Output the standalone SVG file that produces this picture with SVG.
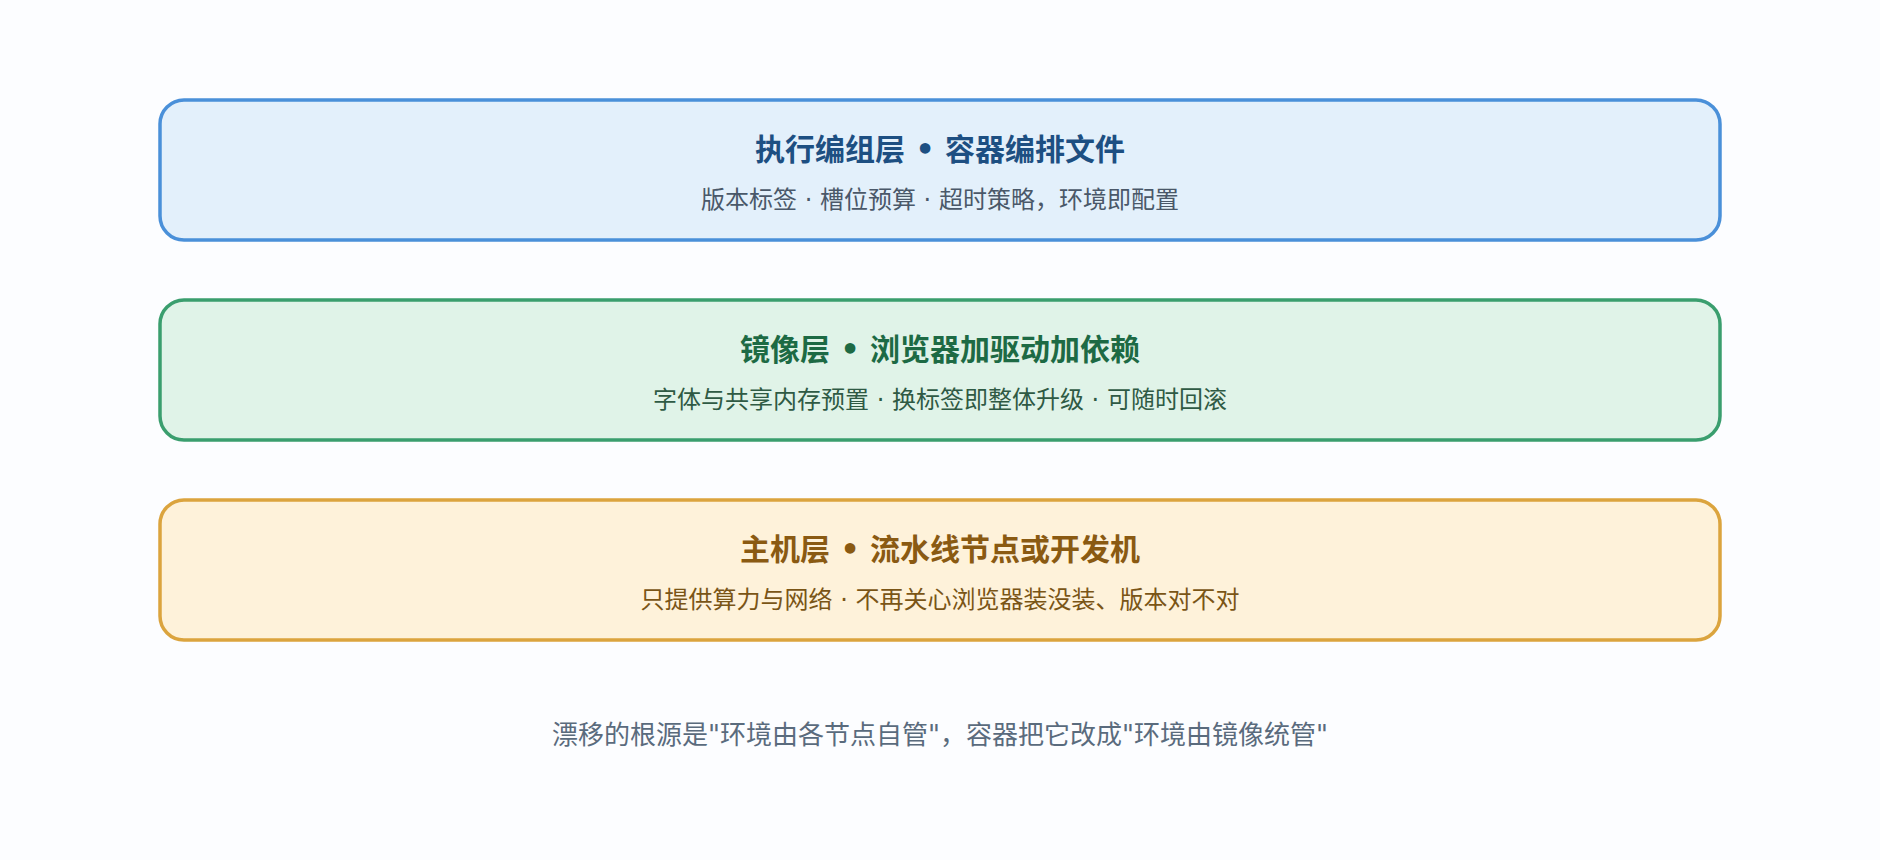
<svg xmlns="http://www.w3.org/2000/svg" width="1880" height="860" viewBox="0 0 1880 860">
<style>
.t{font-family:"DejaVu Sans","Noto Sans CJK SC",sans-serif;font-weight:700;font-size:30px;text-anchor:middle}
.s{font-family:"DejaVu Sans","Noto Sans CJK SC",sans-serif;font-size:24px;text-anchor:middle}
.n{font-family:"DejaVu Sans","Noto Sans CJK SC",sans-serif;font-size:26px;text-anchor:middle}
.box{stroke-width:3.5}
</style>
<rect width="1880" height="860" fill="#fcfdff"/>
<g id="layer-exec">
<rect class="box" x="160" y="100" width="1560" height="140" rx="24" fill="#e3f0fb" stroke="#4a90d9"/>
<text class="t" x="940" y="160" fill="#1d4f82">执行编组层 • 容器编排文件</text>
<text class="s" x="940" y="208" fill="#4a5869">版本标签 · 槽位预算 · 超时策略，环境即配置</text>
</g>
<g id="layer-image">
<rect class="box" x="160" y="300" width="1560" height="140" rx="24" fill="#e0f3e8" stroke="#3a9e6e"/>
<text class="t" x="940" y="360" fill="#1d6a44">镜像层 • 浏览器加驱动加依赖</text>
<text class="s" x="940" y="408" fill="#2f5a44">字体与共享内存预置 · 换标签即整体升级 · 可随时回滚</text>
</g>
<g id="layer-host">
<rect class="box" x="160" y="500" width="1560" height="140" rx="24" fill="#fef2da" stroke="#dba43e"/>
<text class="t" x="940" y="560" fill="#8a5a12">主机层 • 流水线节点或开发机</text>
<text class="s" x="940" y="608" fill="#7a5516">只提供算力与网络 · 不再关心浏览器装没装、版本对不对</text>
</g>
<g id="connectors"></g>
<text class="n" x="940" y="744" fill="#5a6b7d">漂移的根源是"环境由各节点自管"，容器把它改成"环境由镜像统管"</text>
</svg>
